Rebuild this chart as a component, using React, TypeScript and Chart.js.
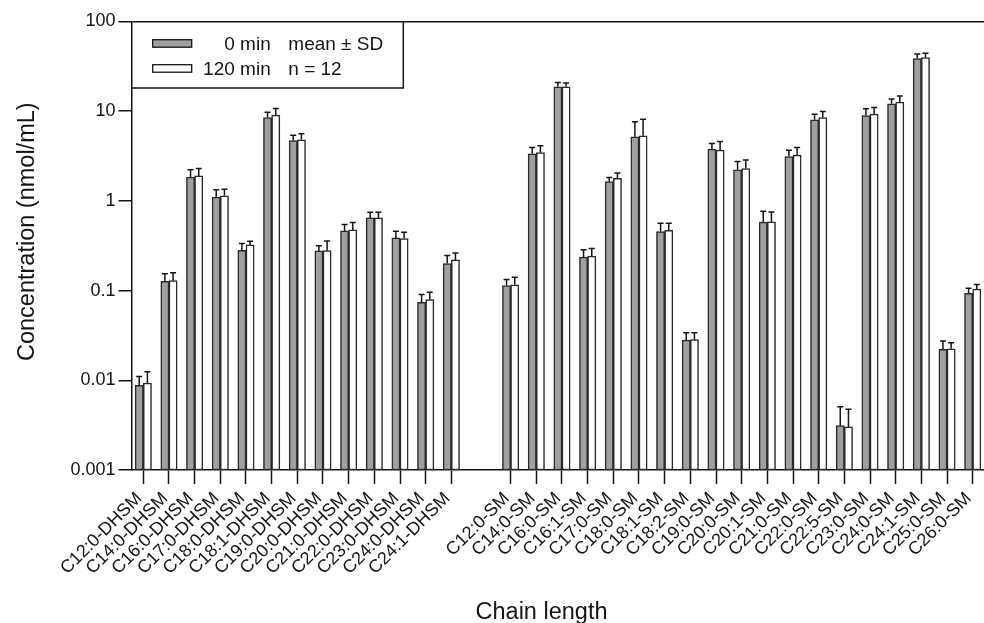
import { useEffect, useRef } from "react";
import { Chart, registerables } from "chart.js";

Chart.register(...registerables);

// Species, grouped by sphingoid backbone
const dhsmLabels = [
  "C12:0-DHSM", "C14:0-DHSM", "C16:0-DHSM", "C17:0-DHSM", "C18:0-DHSM",
  "C18:1-DHSM", "C19:0-DHSM", "C20:0-DHSM", "C21:0-DHSM", "C22:0-DHSM",
  "C23:0-DHSM", "C24:0-DHSM", "C24:1-DHSM",
];
const smLabels = [
  "C12:0-SM", "C14:0-SM", "C16:0-SM", "C16:1-SM", "C17:0-SM", "C18:0-SM",
  "C18:1-SM", "C18:2-SM", "C19:0-SM", "C20:0-SM", "C20:1-SM", "C21:0-SM",
  "C22:0-SM", "C22:5-SM", "C23:0-SM", "C24:0-SM", "C24:1-SM", "C25:0-SM",
  "C26:0-SM",
];

// 0 min: mean and SD (nmol/mL)
const dhsm0Mean = [0.0088, 0.127, 1.84, 1.10, 0.282, 8.5, 4.71, 0.277, 0.463, 0.646, 0.387, 0.0742, 0.200];
const dhsm0Sd = [0.0022, 0.0275, 0.38, 0.23, 0.052, 1.26, 0.70, 0.040, 0.082, 0.10, 0.072, 0.016, 0.046];
const sm0Mean = [0.114, 3.35, 18.7, 0.236, 1.64, 5.18, 0.455, 0.028, 3.78, 2.22, 0.579, 3.12, 8.01, 0.00312, 8.95, 12.1, 38.7, 0.0222, 0.0935];
const sm0Sd = [0.019, 0.59, 2.2, 0.049, 0.18, 2.43, 0.109, 0.006, 0.58, 0.53, 0.19, 0.56, 1.26, 0.00196, 1.68, 1.55, 4.6, 0.0053, 0.013];

// 120 min: mean and SD (nmol/mL)
const dhsm120Mean = [0.00934, 0.129, 1.90, 1.14, 0.323, 9.04, 4.79, 0.279, 0.475, 0.646, 0.380, 0.0793, 0.220];
const dhsm120Sd = [0.0031, 0.029, 0.39, 0.21, 0.032, 1.67, 0.80, 0.079, 0.10, 0.10, 0.068, 0.0166, 0.043];
const sm120Mean = [0.116, 3.46, 18.7, 0.242, 1.79, 5.31, 0.471, 0.0284, 3.68, 2.29, 0.583, 3.24, 8.50, 0.00302, 9.27, 12.6, 39.7, 0.0225, 0.104];
const sm120Sd = [0.025, 0.65, 1.9, 0.052, 0.26, 2.84, 0.093, 0.0056, 0.91, 0.57, 0.17, 0.70, 1.41, 0.00173, 1.72, 2.2, 4.7, 0.0038, 0.013];

const yTickValues = [0.001, 0.01, 0.1, 1, 10, 100];
const yTickLabels = ["0.001", "0.01", "0.1", "1", "10", "100"];

const seriesNames = ["0 min", "120 min"];
const legendNotes = ["mean \u00b1 SD", "n = 12"];

const FONT = '"Liberation Sans", Arial, Helvetica, sans-serif';
const INK = "#151515";
const GRAY = "#a0a0a0";
const GROUP_GAP = 2.31; // spacing (in slots) between the DHSM and SM groups

const labels = [...dhsmLabels, ...smLabels];
const positions = [
  ...dhsmLabels.map((_, i) => i),
  ...smLabels.map((_, j) => dhsmLabels.length - 1 + GROUP_GAP + j),
];

const series = [
  { name: seriesNames[0], mean: [...dhsm0Mean, ...sm0Mean], sd: [...dhsm0Sd, ...sm0Sd], fill: GRAY },
  { name: seriesNames[1], mean: [...dhsm120Mean, ...sm120Mean], sd: [...dhsm120Sd, ...sm120Sd], fill: "#ffffff" },
];

// Upper error whiskers with caps
const errorBars = {
  id: "errorBars",
  afterDatasetsDraw(chart: any) {
    const { ctx } = chart;
    const yScale = chart.scales.y;
    ctx.save();
    ctx.strokeStyle = INK;
    ctx.lineWidth = 1.5;
    chart.data.datasets.forEach((ds: any, di: number) => {
      const meta = chart.getDatasetMeta(di);
      meta.data.forEach((bar: any, i: number) => {
        const top = yScale.getPixelForValue(ds.data[i].y + ds.sd[i]);
        ctx.beginPath();
        ctx.moveTo(bar.x, bar.y);
        ctx.lineTo(bar.x, top);
        ctx.moveTo(bar.x - 3, top);
        ctx.lineTo(bar.x + 3, top);
        ctx.stroke();
      });
    });
    ctx.restore();
  },
};

// Boxed legend in the top-left corner plus axis titles
const decorations = {
  id: "decorations",
  afterDraw(chart: any) {
    const { ctx, chartArea } = chart;
    const left = chartArea.left;
    const top = chartArea.top;
    ctx.save();

    // legend box (left and top edges are the axis frame)
    ctx.strokeStyle = INK;
    ctx.lineWidth = 1.5;
    ctx.beginPath();
    ctx.moveTo(left, top + 66.5);
    ctx.lineTo(left + 271.8, top + 66.5);
    ctx.lineTo(left + 271.8, top);
    ctx.stroke();

    const rows = [
      { fill: GRAY, swatchY: top + 18.2, baseline: top + 28.2 },
      { fill: "#ffffff", swatchY: top + 43.2, baseline: top + 53.2 },
    ];
    ctx.font = `19px ${FONT}`;
    rows.forEach((r, i) => {
      ctx.fillStyle = r.fill;
      ctx.fillRect(left + 21.2, r.swatchY, 39, 7.5);
      ctx.strokeStyle = INK;
      ctx.lineWidth = 1.3;
      ctx.strokeRect(left + 21.2, r.swatchY, 39, 7.5);
      ctx.fillStyle = INK;
      ctx.textBaseline = "alphabetic";
      ctx.textAlign = "right";
      ctx.fillText(seriesNames[i], left + 139.2, r.baseline);
      ctx.textAlign = "left";
      ctx.fillText(legendNotes[i], left + 156.8, r.baseline);
    });

    // axis titles
    ctx.font = `23.5px ${FONT}`;
    ctx.textAlign = "center";
    ctx.textBaseline = "alphabetic";
    ctx.fillText("Chain length", 541.5, 619);
    ctx.translate(33.5, 231.7);
    ctx.rotate(-Math.PI / 2);
    ctx.fillText("Concentration (nmol/mL)", 0, 0);
    ctx.restore();
  },
};

export default function App() {
  const canvasRef = useRef<HTMLCanvasElement | null>(null);

  useEffect(() => {
    const canvas = canvasRef.current;
    if (!canvas) return;
    const chart = new Chart(canvas, {
      type: "bar",
      data: {
        datasets: series.map((s) => ({
          label: s.name,
          data: positions.map((x, i) => ({ x, y: s.mean[i] })),
          sd: s.sd,
          backgroundColor: s.fill,
          borderColor: "#2a2a2a",
          borderWidth: 1.5,
          borderSkipped: false,
          barThickness: 8.2,
        })) as any,
      },
      options: {
        responsive: false,
        animation: false,
        devicePixelRatio: 1,
        layout: { padding: { top: 21.5, left: 0, right: 0, bottom: 0 } },
        plugins: { legend: { display: false }, tooltip: { enabled: false } },
        scales: {
          x: {
            type: "linear",
            min: -0.46,
            max: 32.75,
            offset: false,
            afterBuildTicks: (s: any) => {
              s.ticks = positions.map((v) => ({ value: v }));
            },
            afterFit: (s: any) => {
              s.height = 153;
              s.paddingLeft = 0;
              s.paddingRight = 0;
            },
            ticks: {
              autoSkip: false,
              minRotation: 45,
              maxRotation: 45,
              padding: 4,
              labelOffset: -4,
              color: INK,
              font: { size: 18, family: FONT },
              callback: (_v: any, i: number) => labels[i],
            },
            grid: {
              offset: false,
              drawOnChartArea: false,
              drawTicks: true,
              tickLength: 14,
              tickColor: INK,
              tickWidth: 1.5,
            },
            border: { display: true, color: INK, width: 1.5 },
          },
          y: {
            type: "logarithmic",
            min: 0.001,
            max: 100,
            afterBuildTicks: (s: any) => {
              s.ticks = yTickValues.map((v) => ({ value: v, major: true }));
            },
            afterFit: (s: any) => {
              s.width = 131.5;
            },
            ticks: {
              autoSkip: false,
              padding: 3,
              color: INK,
              font: { size: 18, family: FONT },
              callback: (_v: any, i: number) => yTickLabels[i],
            },
            grid: {
              drawOnChartArea: true,
              color: (c: any) => (c.tick && c.tick.value === 100 ? INK : "rgba(0,0,0,0)"),
              lineWidth: 1.5,
              drawTicks: true,
              tickLength: 13,
              tickColor: INK,
              tickWidth: 1.5,
            },
            border: { display: true, color: INK, width: 1.5 },
          },
        },
      } as any,
      plugins: [errorBars, decorations],
    });
    return () => chart.destroy();
  }, []);

  return (
    <div style={{ position: "fixed", left: 0, top: 0, width: 984, height: 623, background: "#fff" }}>
      <canvas ref={canvasRef} width={984} height={623} style={{ display: "block" }} />
    </div>
  );
}
